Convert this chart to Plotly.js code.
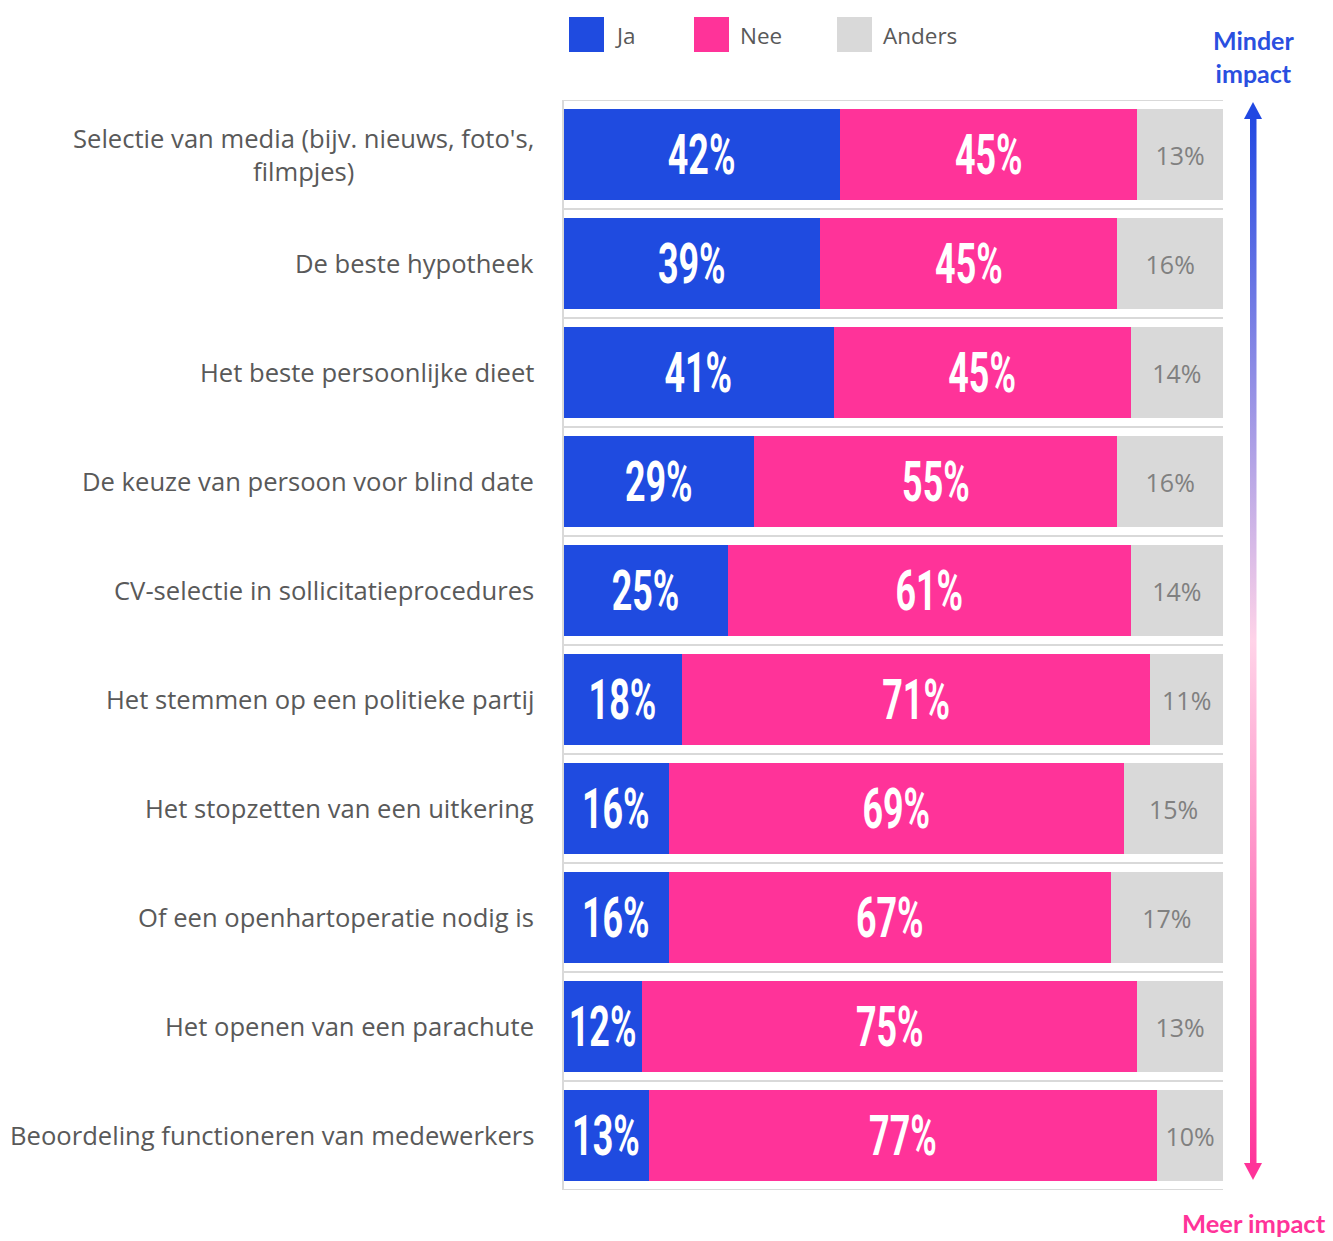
<!DOCTYPE html>
<html>
<head>
<meta charset="utf-8">
<script src="https://cdn.plot.ly/plotly-3.0.1.min.js"></script>
<style>
  html, body { margin: 0; padding: 0; background: #ffffff; }
  #chart { width: 1333px; height: 1241px; }
</style>
</head>
<body>
<div id="chart"></div>
<script>
// ---- Data ----
const categories = [
  "Selectie van media (bijv. nieuws, foto's,<br>filmpjes)",
  "De beste hypotheek",
  "Het beste persoonlijke dieet",
  "De keuze van persoon voor blind date",
  "CV-selectie in sollicitatieprocedures",
  "Het stemmen op een politieke partij",
  "Het stopzetten van een uitkering",
  "Of een openhartoperatie nodig is",
  "Het openen van een parachute",
  "Beoordeling functioneren van medewerkers"
];
const ja     = [42, 39, 41, 29, 25, 18, 16, 16, 12, 13];
const nee    = [45, 45, 45, 55, 61, 71, 69, 67, 75, 77];
const anders = [13, 16, 14, 16, 14, 11, 15, 17, 13, 10];
const seriesNames = ["Ja", "Nee", "Anders"];
const topLabel = "Minder<br>impact";
const bottomLabel = "Meer impact";

// ---- Styles ----
const colors = ["#1F4BE0", "#FF3399", "#D9D9D9"];
const insideFont = {family: "Roboto, sans-serif", size: 56, color: "#ffffff", weight: "bold"};
const andersFont = {family: "Open Sans, sans-serif", size: 25, color: "#808080"};
const condenseX = 0.64;   // horizontal squeeze for the condensed bar labels

const pct = v => v + "%";
const series = [ja, nee, anders];
const traces = series.map((vals, i) => ({
  type: "bar",
  orientation: "h",
  name: seriesNames[i],
  y: categories,
  x: vals,
  marker: {color: colors[i], line: {width: 0}},
  text: vals.map(pct),
  textposition: "inside",
  insidetextanchor: "middle",
  textangle: 0,
  constraintext: "none",
  cliponaxis: false,
  textfont: i < 2 ? insideFont : andersFont,
  hoverinfo: "name+x+y",
  showlegend: false
}));

// ---- Layout geometry (pixels) ----
const W = 1333, H = 1241;
const L = 563, R = 110, T = 100, B = 51;
const pw = W - L - R, ph = H - T - B;
const px = x => (x - L) / pw;        // pixel x -> paper
const py = y => (H - B - y) / ph;    // pixel y -> paper

const shapes = [];
for (let k = 0; k <= categories.length; k++) {
  shapes.push({type: "line", xref: "paper", yref: "y", x0: 0, x1: 1,
    y0: k - 0.5, y1: k - 0.5, line: {color: "#D9D9D9", width: 2}, layer: "below"});
}
shapes.push({type: "line", xref: "paper", yref: "paper", x0: 0, x1: 0, y0: 0, y1: 1,
  line: {color: "#D9D9D9", width: 2}});

const annotations = [];
categories.forEach(c => {
  annotations.push({xref: "paper", yref: "y", x: 0, y: c, xanchor: "right", yanchor: "middle",
    xshift: -27, align: "center", showarrow: false, text: c,
    font: {family: "Open Sans, sans-serif", size: 25.6, color: "#595959"}});
});

const legX = [569, 694, 837];
seriesNames.forEach((n, i) => {
  shapes.push({type: "rect", xref: "paper", yref: "paper",
    x0: px(legX[i]), x1: px(legX[i] + 35), y0: py(52), y1: py(17),
    fillcolor: colors[i], line: {width: 0}});
  annotations.push({xref: "paper", yref: "paper", x: px(legX[i] + 44), y: py(35),
    xanchor: "left", yanchor: "middle", showarrow: false, text: n,
    font: {family: "Open Sans, sans-serif", size: 22.5, color: "#595959"}});
});

annotations.push({xref: "paper", yref: "paper", x: px(1253), y: py(56), xanchor: "center", yanchor: "middle",
  showarrow: false, text: "<b>" + topLabel + "</b>", align: "center",
  font: {family: "Lato, sans-serif", size: 25, color: "#2A4FE0"}});
annotations.push({xref: "paper", yref: "paper", x: px(1254), y: py(1223), xanchor: "center", yanchor: "middle",
  showarrow: false, text: "<b>" + bottomLabel + "</b>",
  font: {family: "Lato, sans-serif", size: 25.5, color: "#FF3399"}});

const arrowSvg =
  '<svg xmlns="http://www.w3.org/2000/svg" width="26" height="1083" viewBox="0 0 26 1083" preserveAspectRatio="none">' +
  '<defs><linearGradient id="g" x1="0" y1="0" x2="0" y2="1">' +
  '<stop offset="0" stop-color="#2148E2"/>' +
  '<stop offset="0.5" stop-color="#FFD3E8"/>' +
  '<stop offset="1" stop-color="#FF3399"/>' +
  '</linearGradient></defs>' +
  '<rect x="10" y="15" width="6.5" height="1052" fill="url(#g)"/>' +
  '<polygon points="4,19 13,2 22,19" fill="#2148E2"/>' +
  '<polygon points="4,1063 22,1063 13,1080" fill="#FF3399"/>' +
  '</svg>';
const images = [{
  source: "data:image/svg+xml;charset=utf-8," + encodeURIComponent(arrowSvg),
  xref: "paper", yref: "paper", x: px(1240), y: py(100),
  sizex: 26 / pw, sizey: 1083 / ph, xanchor: "left", yanchor: "top",
  sizing: "stretch", layer: "above"
}];

const layout = {
  width: W, height: H,
  margin: {l: L, r: R, t: T, b: B, pad: 0},
  barmode: "stack",
  bargap: 0.174,
  paper_bgcolor: "#ffffff",
  plot_bgcolor: "#ffffff",
  showlegend: false,
  xaxis: {range: [0, 100], visible: false, fixedrange: true},
  yaxis: {type: "category", range: [categories.length - 0.5, -0.5], showticklabels: false,
    showgrid: false, zeroline: false, showline: false, ticks: "", fixedrange: true},
  shapes: shapes,
  annotations: annotations,
  images: images,
  font: {family: "Open Sans, sans-serif"}
};

Plotly.newPlot("chart", traces, layout, {displayModeBar: false, staticPlot: true}).then(gd => {
  // squeeze the white in-bar labels horizontally around their own centre
  gd.querySelectorAll("text.bartext").forEach(t => {
    const fill = (t.style.fill || t.getAttribute("fill") || "").replace(/\s/g, "");
    if (fill !== "rgb(255,255,255)" && fill !== "#ffffff") return;
    const bb = t.getBBox();
    const cx = bb.x + bb.width / 2, cy = bb.y + bb.height / 2;
    const prev = t.getAttribute("transform") || "";
    t.setAttribute("transform", prev + " translate(" + cx + "," + cy + ") scale(" + condenseX + ",1) translate(" + (-cx) + "," + (-cy) + ")");
  });
});
</script>
</body>
</html>
